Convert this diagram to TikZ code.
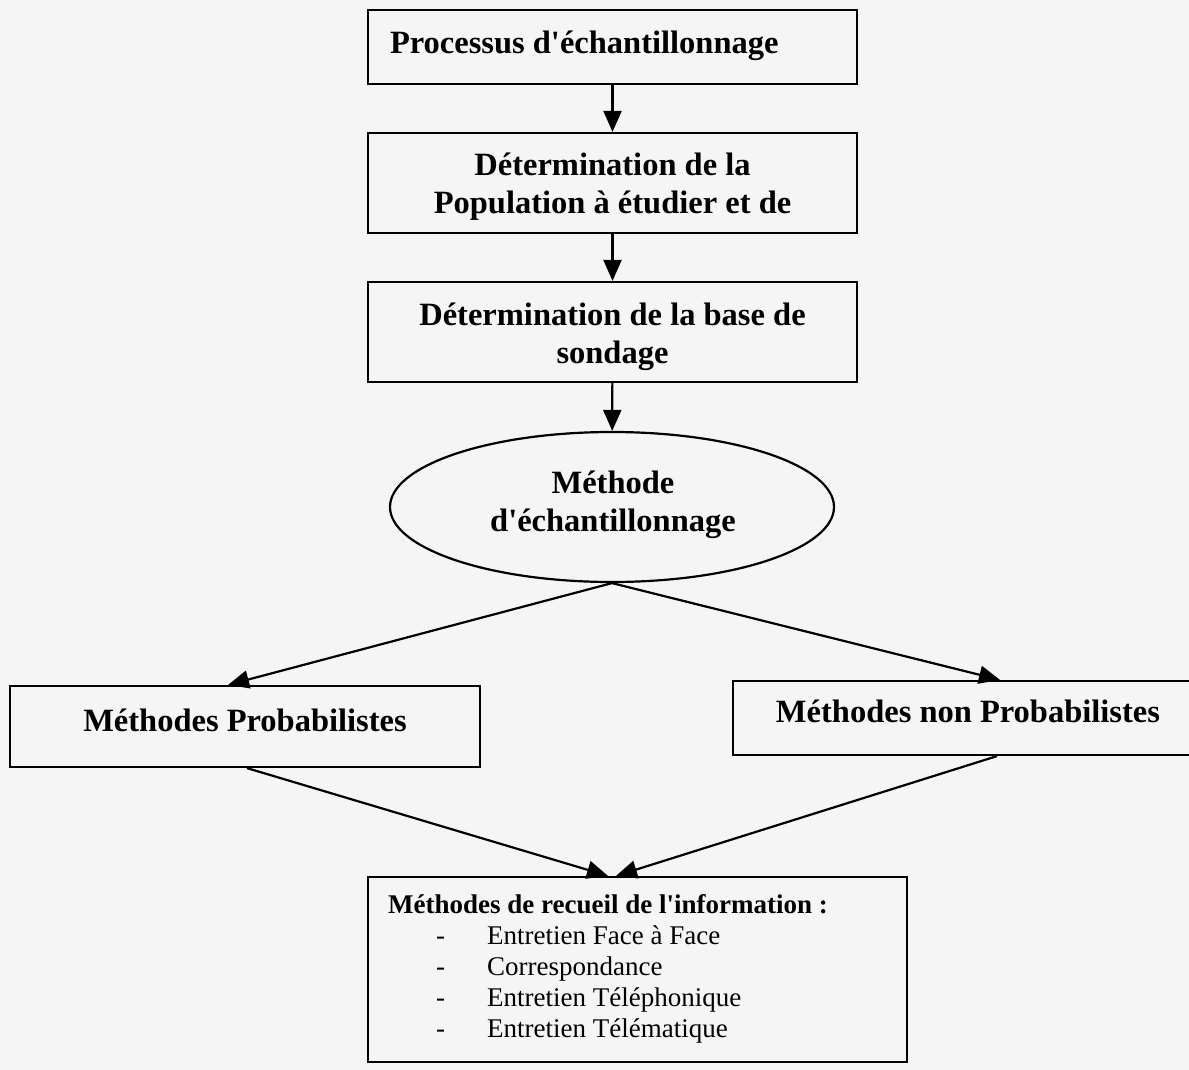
\documentclass[tikz,border=0pt]{standalone}
\usepackage{fontspec}
\setmainfont{Liberation Serif}
\usetikzlibrary{shapes.geometric,arrows.meta}

\begin{document}
\begin{tikzpicture}[x=1pt,y=-1pt,
  frame/.style={draw, line width=2.2pt, inner sep=0pt},
  lbl/.style={inner sep=0pt, align=center,
    font=\fontsize{32.5}{38}\selectfont\bfseries},
  link/.style={line width=2.2pt, -{Triangle[length=21pt,width=18pt]}}]
% paper background and page size
\fill[black!4] (0,0) rectangle (1189,1070);
\useasboundingbox (0,0) rectangle (1189,1070);

% main chain of steps
\node[frame, minimum width=489pt, minimum height=74pt] (proc) at (612.5,47) {};
\node[lbl] (proc-t) at (612.5,46)
  {\makebox[445pt][l]{Processus d\textquotesingle échantillonnage}};

\node[frame, minimum width=489pt, minimum height=100pt] (pop) at (612.5,183) {};
\node[lbl] (pop-t) at (612.5,187) {Détermination de la\\Population à étudier et de};

\node[frame, minimum width=489pt, minimum height=100pt] (base) at (612.5,332) {};
\node[lbl] (base-t) at (612.5,337) {Détermination de la base de\\sondage};

\node[frame, ellipse, minimum width=444pt, minimum height=150pt] (meth) at (612,507) {};
\node[lbl] (meth-t) at (613,505) {Méthode\\d\textquotesingle échantillonnage};

% the two families of methods
\node[frame, minimum width=470pt, minimum height=81pt] (prob) at (245,726.5) {};
\node[lbl] (prob-t) at (245,720) {Méthodes Probabilistes};

\node[frame, minimum width=470pt, minimum height=74pt] (nprob) at (968,718) {};
\node[lbl] (nprob-t) at (968,711) {Méthodes non Probabilistes};

% data collection methods
\node[frame, minimum width=539pt, minimum height=185pt] (recueil) at (637.5,969.5) {};
\node[anchor=north west, inner sep=0pt, align=left,
  font=\fontsize{27}{31}\selectfont]
  (liste) at ([xshift=21pt,yshift=-18pt]recueil.north west)
  {\textbf{Méthodes de recueil de l\textquotesingle information :}\\
   \hspace*{48pt}\makebox[51pt][l]{-}Entretien Face à Face\\
   \hspace*{48pt}\makebox[51pt][l]{-}Correspondance\\
   \hspace*{48pt}\makebox[51pt][l]{-}Entretien Téléphonique\\
   \hspace*{48pt}\makebox[51pt][l]{-}Entretien Télématique};

% connectors
\draw[link] (proc) -- (pop);
\draw[link] (pop) -- (base);
\draw[link] (base) -- (meth);
\draw[link] (meth.south) -- ([xshift=-17pt]prob.north);
\draw[link] (meth.south) -- ([xshift=32pt]nprob.north);
\draw[link] ([xshift=2pt]prob.south) -- ([xshift=-29.5pt]recueil.north);
\draw[link] ([xshift=29pt]nprob.south) -- ([xshift=-21.5pt]recueil.north);
\end{tikzpicture}
\end{document}
